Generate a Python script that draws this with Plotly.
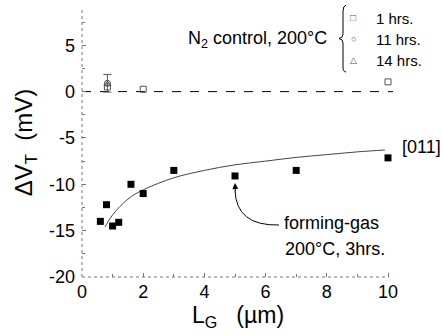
import plotly.graph_objects as go

# ---- data ----
lg_fg = [0.6, 0.8, 1.0, 1.2, 1.6, 2.0, 3.0, 5.0, 7.0, 10.0]
dvt_fg = [-14.0, -12.2, -14.5, -14.1, -10.0, -11.0, -8.5, -9.1, -8.5, -7.15]

fit_x = [0.75, 1.0, 1.5, 2.0, 3.0, 4.0, 5.0, 6.0, 7.0, 8.0, 9.0, 9.9]
fit_y = [-14.6, -13.3, -11.6, -10.6, -9.3, -8.5, -7.9, -7.5, -7.1, -6.8, -6.5, -6.3]

ctrl_1h_x = [0.83, 2.0, 10.0]
ctrl_1h_y = [0.5, 0.25, 1.05]
ctrl_11h_x = [0.83]
ctrl_11h_y = [0.9]
ctrl_11h_err = [0.95]
ctrl_14h_x = [0.83]
ctrl_14h_y = [0.8]

x_ticks = [0, 2, 4, 6, 8, 10]
x_ticktext = ["0", "2", "4", "6", "8", "10"]
y_ticks = [-20, -15, -10, -5, 0, 5]
y_ticktext = ["-20", "-15", "-10", "-5", "0", "5"]

# ---- layout geometry ----
W, H = 443, 335
ML, MR, MT, MB = 82, 49, 8, 58
PW, PH = W - ML - MR, H - MT - MB
FONT = "Liberation Sans, Arial, sans-serif"


def px(X):
    return (X - ML) / PW


def py(Y):
    return (H - MB - Y) / PH


fig = go.Figure()

gray = "#555555"
fig.add_trace(go.Scatter(x=ctrl_11h_x, y=ctrl_11h_y, mode="markers",
                         marker=dict(symbol="circle-open", size=6, color=gray, line=dict(width=1)),
                         error_y=dict(type="data", array=ctrl_11h_err, color=gray, thickness=1, width=4),
                         showlegend=False, cliponaxis=False))
fig.add_trace(go.Scatter(x=ctrl_14h_x, y=ctrl_14h_y, mode="markers",
                         marker=dict(symbol="triangle-up-open", size=6, color=gray, line=dict(width=1)),
                         showlegend=False, cliponaxis=False))
fig.add_trace(go.Scatter(x=ctrl_1h_x, y=ctrl_1h_y, mode="markers",
                         marker=dict(symbol="square-open", size=6, color=gray, line=dict(width=1)),
                         showlegend=False, cliponaxis=False))

fig.add_trace(go.Scatter(x=fit_x, y=fit_y, mode="lines",
                         line=dict(color="#444444", width=1, shape="spline"),
                         showlegend=False))
fig.add_trace(go.Scatter(x=lg_fg, y=dvt_fg, mode="markers",
                         marker=dict(symbol="square", size=7, color="black"),
                         showlegend=False, cliponaxis=False))

shapes = []
# dotted axis lines
shapes.append(dict(type="line", xref="paper", yref="paper", x0=0, x1=0, y0=0, y1=1,
                   line=dict(color="#777777", width=1, dash="dot")))
shapes.append(dict(type="line", xref="paper", yref="paper", x0=0, x1=px(389), y0=0, y1=0,
                   line=dict(color="#777777", width=1, dash="dot")))
# zero dashed line
shapes.append(dict(type="line", xref="paper", yref="y", x0=0, x1=px(393), y0=0, y1=0,
                   line=dict(color="black", width=1, dash="dash"), layer="below"))
# curved arrow for forming-gas
shapes.append(dict(type="path", xref="paper", yref="paper",
                   path=f"M {px(279)},{py(225)} Q {px(236)},{py(226)} {px(235)},{py(190)}",
                   line=dict(color="black", width=1)))
# brace
bx = 343
brace = (f"M {px(bx+3)},{py(5)} Q {px(bx)},{py(6)} {px(bx)},{py(11)} "
         f"L {px(bx)},{py(34)} Q {px(bx)},{py(38)} {px(bx-4)},{py(38.5)} "
         f"Q {px(bx)},{py(39)} {px(bx)},{py(43)} "
         f"L {px(bx)},{py(67)} Q {px(bx)},{py(72)} {px(bx+3)},{py(72)}")
shapes.append(dict(type="path", xref="paper", yref="paper", path=brace,
                   line=dict(color="black", width=1)))

annotations = []


def txt(X, Y, s, size=18, xanchor="left", color="black"):
    annotations.append(dict(xref="paper", yref="paper", x=px(X), y=py(Y), text=s,
                            showarrow=False, xanchor=xanchor, yanchor="middle",
                            font=dict(family=FONT, size=size, color=color)))


txt(329, 39, "N<sub>2</sub> control, 200°C", size=18, xanchor="right")
txt(353, 17, "□", size=10, xanchor="center", color=gray)
txt(353, 39, "○", size=9, xanchor="center", color=gray)
txt(353, 60, "△", size=9, xanchor="center", color=gray)
txt(374, 18, "1 hrs.", size=15)
txt(374, 39, "11 hrs.", size=15)
txt(374, 61, "14 hrs.", size=15)
txt(400, 147, "[011]", size=18)
txt(282, 223, "forming-gas", size=18)
txt(283, 249, "200°C, 3hrs.", size=18)
# arrowhead
annotations.append(dict(xref="paper", yref="paper", x=px(235), y=py(183),
                        ax=0.5, ay=9,
                        text="", showarrow=True, arrowhead=2, arrowsize=1.2,
                        arrowwidth=1, arrowcolor="black"))

fig.update_layout(
    width=W, height=H,
    margin=dict(l=ML, r=MR, t=MT, b=MB),
    paper_bgcolor="white", plot_bgcolor="white",
    font=dict(family=FONT, size=18, color="black"),
    shapes=shapes, annotations=annotations,
    showlegend=False,
)
fig.update_xaxes(range=[0, PW / 30.6], tickvals=x_ticks, ticktext=x_ticktext,
                 ticks="inside", ticklen=4, ticklabelstandoff=2,
                 tickcolor="#777777", showline=False, showgrid=False, zeroline=False,
                 minor=dict(tickvals=[1, 3, 5, 7, 9], ticks="inside", ticklen=3, tickcolor="#777777"),
                 tickfont=dict(size=18),
                 title=dict(text="L<sub>G</sub>&nbsp;&nbsp;&nbsp;(µm)", font=dict(size=23), standoff=2))
fig.update_yaxes(range=[-20, -20 + PH / 9.27], tickvals=y_ticks, ticktext=y_ticktext,
                 ticks="inside", ticklen=4, ticklabelstandoff=6,
                 tickcolor="#777777", showline=False, showgrid=False, zeroline=False,
                 minor=dict(tickvals=[-17.5, -12.5, -7.5, -2.5, 2.5, 7.5], ticks="inside",
                            ticklen=3, tickcolor="#777777"),
                 tickfont=dict(size=18),
                 title=dict(text="ΔV<sub>T</sub>&nbsp;&nbsp;(mV)", font=dict(size=24), standoff=9))

fig.write_html("out.html")
